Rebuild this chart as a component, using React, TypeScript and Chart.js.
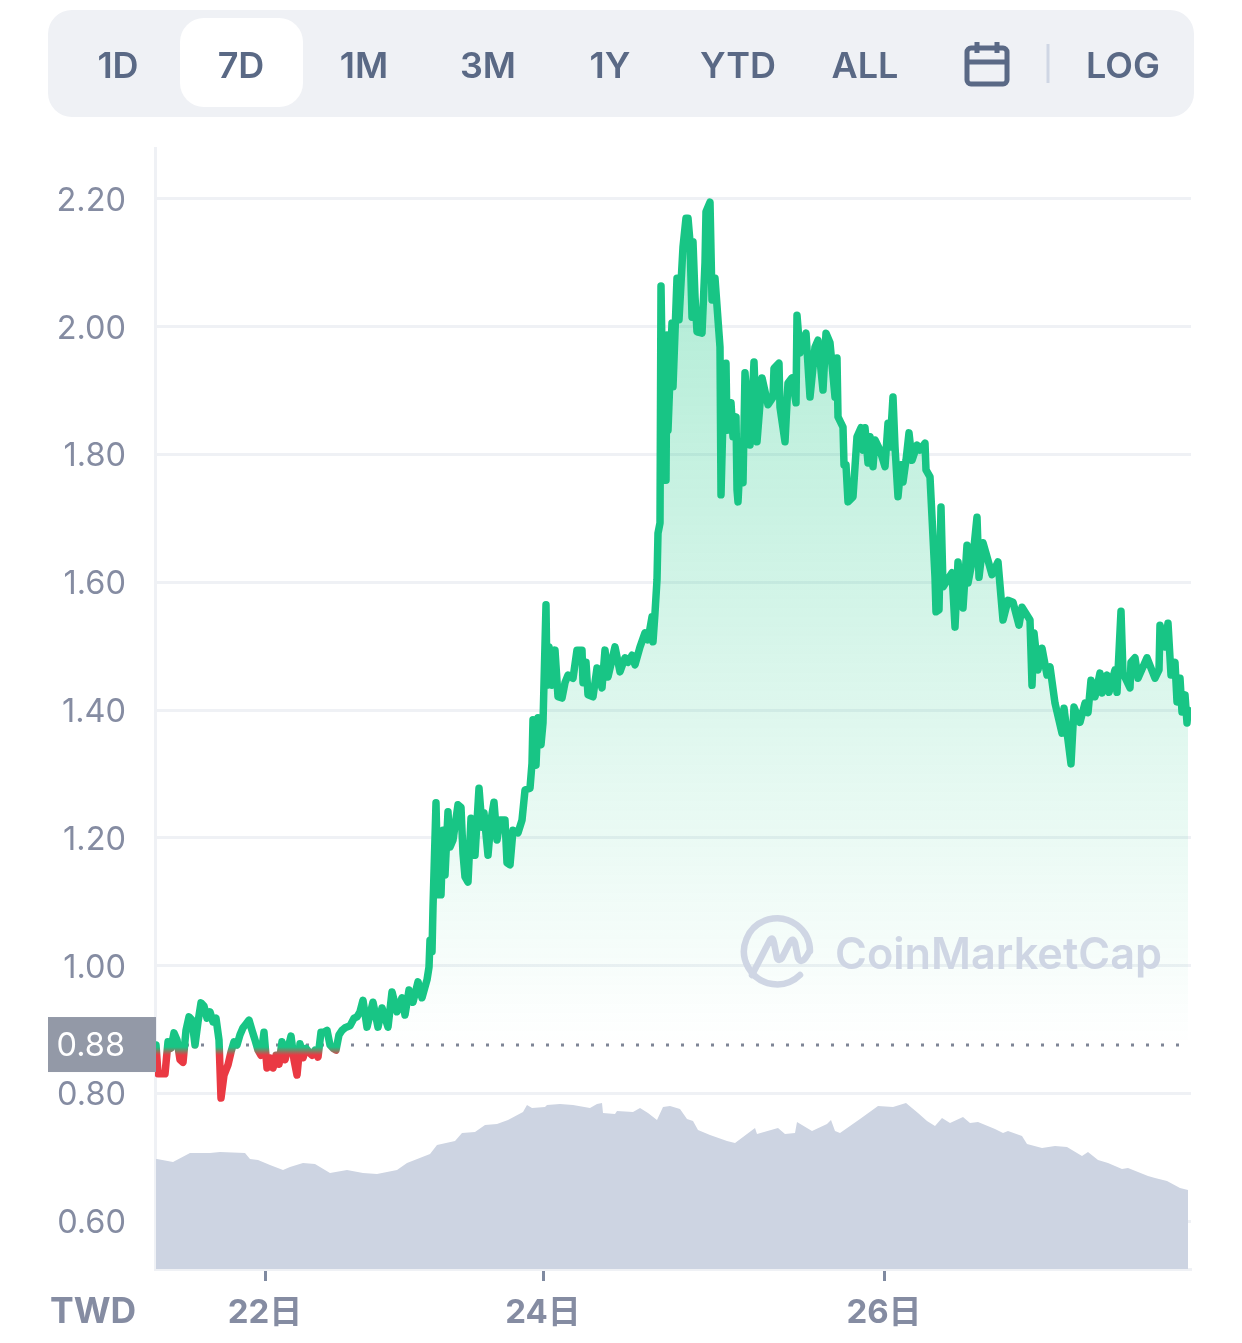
import React, { useEffect, useRef } from "react";
import { Chart, registerables } from "chart.js";

Chart.register(...registerables);

const rangeButtons = ["1D", "7D", "1M", "3M", "1Y", "YTD", "ALL"];
const rangeCenters = [118, 241, 364, 488, 610, 738, 865];
const yTickStep = 0.2;
const xTickMinutes = [1090, 3870, 7280];
const xTickLabels = ["22日", "24日", "26日"];
const currency = "TWD";
const baseline = 0.876;
const baselineLabel = "0.88";

const priceMinutes = [
  0, 20, 90, 120, 150, 180, 210, 240, 270, 300, 330, 360, 390, 420, 450, 480, 510, 540, 570, 600, 630, 650, 680, 720,
  750, 780, 810, 840, 870, 900, 930, 960, 990, 1020, 1050, 1080, 1110, 1140, 1170, 1200, 1230, 1260, 1290, 1320, 1350,
  1380, 1410, 1440, 1470, 1500, 1530, 1560, 1590, 1620, 1650, 1680, 1710, 1740, 1770, 1800, 1830, 1860, 1890, 1940,
  1980, 2010, 2040, 2070, 2110, 2170, 2220, 2260, 2320, 2360, 2410, 2460, 2490, 2530, 2570, 2620, 2660, 2710, 2730,
  2740, 2760, 2770, 2800, 2820, 2850, 2870, 2890, 2920, 2940, 2970, 3020, 3050, 3070, 3090, 3120, 3150, 3190, 3230,
  3260, 3280, 3320, 3350, 3380, 3410, 3440, 3490, 3510, 3540, 3570, 3620, 3660, 3690, 3740, 3760, 3770, 3800, 3820,
  3850, 3870, 3900, 3910, 3930, 3960, 3990, 4020, 4060, 4090, 4120, 4170, 4210, 4260, 4270, 4300, 4320, 4370, 4410,
  4460, 4490, 4520, 4590, 4640, 4690, 4720, 4760, 4790, 4840, 4890, 4920, 4960, 4970, 4990, 5010, 5020, 5040, 5050,
  5080, 5100, 5110, 5120, 5160, 5170, 5210, 5230, 5270, 5300, 5320, 5340, 5360, 5370, 5390, 5410, 5460, 5490, 5500,
  5540, 5560, 5590, 5620, 5640, 5650, 5670, 5700, 5710, 5750, 5770, 5800, 5810, 5820, 5840, 5870, 5890, 5940, 5980,
  6010, 6060, 6120, 6170, 6180, 6230, 6240, 6290, 6320, 6360, 6400, 6410, 6440, 6500, 6540, 6590, 6620, 6670, 6700,
  6740, 6790, 6810, 6820, 6870, 6880, 6900, 6920, 6970, 7010, 7050, 7070, 7090, 7120, 7140, 7170, 7190, 7240, 7290,
  7320, 7340, 7370, 7390, 7420, 7450, 7470, 7500, 7530, 7560, 7610, 7640, 7690, 7700, 7740, 7790, 7800, 7830, 7850,
  7870, 7960, 7990, 8020, 8070, 8110, 8120, 8170, 8210, 8230, 8270, 8310, 8360, 8420, 8470, 8520, 8570, 8630, 8660,
  8740, 8760, 8780, 8820, 8860, 8910, 8940, 8990, 9060, 9080, 9150, 9180, 9240, 9290, 9320, 9350, 9390, 9440, 9460,
  9510, 9530, 9590, 9610, 9650, 9670, 9740, 9750, 9790, 9820, 9910, 9990, 10030, 10040, 10090, 10120, 10150, 10190,
  10210, 10240, 10260, 10290, 10310, 10320,
];

const prices = [
  0.876, 0.831, 0.831, 0.881, 0.871, 0.895, 0.884, 0.853, 0.849, 0.899, 0.92, 0.915, 0.876, 0.912, 0.942, 0.937, 0.918,
  0.928, 0.912, 0.918, 0.884, 0.793, 0.829, 0.845, 0.865, 0.881, 0.876, 0.892, 0.903, 0.909, 0.915, 0.899, 0.884, 0.868,
  0.86, 0.896, 0.84, 0.856, 0.84, 0.86, 0.846, 0.881, 0.853, 0.871, 0.89, 0.853, 0.829, 0.878, 0.856, 0.871, 0.865, 0.86,
  0.868, 0.857, 0.896, 0.896, 0.899, 0.876, 0.871, 0.868, 0.892, 0.899, 0.903, 0.906, 0.918, 0.92, 0.928, 0.946, 0.904,
  0.943, 0.904, 0.934, 0.904, 0.959, 0.928, 0.95, 0.923, 0.962, 0.943, 0.975, 0.95, 0.978, 0.998, 1.04, 1.022, 1.092,
  1.255, 1.111, 1.111, 1.212, 1.142, 1.241, 1.186, 1.197, 1.252, 1.248, 1.176, 1.139, 1.131, 1.231, 1.173, 1.278, 1.217,
  1.239, 1.173, 1.228, 1.256, 1.197, 1.228, 1.228, 1.161, 1.158, 1.212, 1.208, 1.228, 1.275, 1.278, 1.317, 1.385, 1.314,
  1.388, 1.346, 1.38, 1.565, 1.439, 1.499, 1.439, 1.494, 1.421, 1.419, 1.443, 1.455, 1.45, 1.494, 1.494, 1.443, 1.475,
  1.424, 1.421, 1.466, 1.435, 1.494, 1.452, 1.499, 1.46, 1.482, 1.475, 1.486, 1.471, 1.499, 1.521, 1.51, 1.546, 1.507,
  1.552, 1.604, 1.677, 1.693, 2.064, 1.76, 1.76, 1.987, 1.838, 2.006, 1.906, 2.076, 2.011, 2.125, 2.17, 2.17, 2.133,
  2.015, 2.133, 2.047, 1.992, 1.99, 2.1, 2.18, 2.195, 2.042, 2.076, 2.011, 1.968, 1.737, 1.859, 1.943, 1.838, 1.881,
  1.828, 1.859, 1.745, 1.726, 1.787, 1.756, 1.928, 1.815, 1.945, 1.82, 1.92, 1.878, 1.89, 1.935, 1.943, 1.874, 1.82,
  1.912, 1.92, 1.881, 2.018, 1.959, 1.99, 1.89, 1.968, 1.979, 1.901, 1.99, 1.975, 1.89, 1.951, 1.859, 1.843, 1.784,
  1.784, 1.726, 1.734, 1.828, 1.842, 1.807, 1.842, 1.787, 1.828, 1.781, 1.823, 1.807, 1.781, 1.849, 1.812, 1.89, 1.812,
  1.734, 1.784, 1.757, 1.791, 1.834, 1.791, 1.815, 1.807, 1.818, 1.776, 1.765, 1.608, 1.554, 1.557, 1.718, 1.593, 1.615,
  1.53, 1.632, 1.56, 1.658, 1.599, 1.64, 1.702, 1.608, 1.662, 1.64, 1.612, 1.632, 1.541, 1.572, 1.569, 1.533, 1.561,
  1.541, 1.439, 1.521, 1.463, 1.497, 1.455, 1.468, 1.411, 1.364, 1.403, 1.316, 1.405, 1.381, 1.411, 1.396, 1.447, 1.421,
  1.458, 1.427, 1.455, 1.428, 1.463, 1.428, 1.555, 1.458, 1.435, 1.475, 1.482, 1.45, 1.482, 1.45, 1.463, 1.533, 1.499,
  1.536, 1.455, 1.475, 1.413, 1.45, 1.397, 1.424, 1.38, 1.4,
];

const volumeMinutes = [
  0, 10, 170, 340, 540, 640, 890, 940, 1020, 1140, 1270, 1340, 1470, 1590, 1740, 1910, 2070, 2210, 2410, 2510, 2740, 2810,
  2990, 3060, 3190, 3290, 3410, 3520, 3670, 3710, 3760, 3890, 3910, 4040, 4170, 4340, 4410, 4460, 4470, 4590, 4610, 4770,
  4840, 4920, 5010, 5070, 5140, 5240, 5310, 5370, 5420, 5540, 5710, 5790, 5910, 5990, 6010, 6220, 6290, 6390, 6410, 6560,
  6710, 6750, 6790, 6840, 7040, 7220, 7370, 7500, 7620, 7710, 7790, 7860, 7940, 8070, 8140, 8220, 8390, 8470, 8520, 8660,
  8710, 8860, 8990, 9110, 9260, 9320, 9420, 9520, 9660, 9720, 9920, 9990, 10110, 10240, 10320,
];

const volumes = [
  110, 110, 107, 116, 116, 117, 116, 110, 109, 104, 99, 102, 106, 105, 96, 99, 96, 95, 99, 106, 115, 124, 128, 136, 137,
  144, 145, 149, 157, 164, 161, 162, 164, 165, 164, 161, 165, 166, 156, 155, 158, 157, 161, 156, 149, 162, 163, 160, 150,
  148, 139, 134, 128, 126, 135, 141, 135, 141, 135, 136, 147, 138, 145, 149, 138, 136, 150, 163, 162, 166, 156, 148, 143,
  151, 146, 152, 146, 147, 140, 136, 138, 133, 125, 121, 123, 122, 113, 117, 109, 106, 100, 101, 93, 91, 88, 81, 79,
];

const AXIS_FONT = "Inter, 'Noto Sans CJK JP', sans-serif";
const LINE_COLOR = "#eff1f5";
const TEXT_COLOR = "#858ca2";
const BUTTON_COLOR = "#5a6985";

function App() {
  const ref = useRef<HTMLCanvasElement | null>(null);

  useEffect(() => {
    if (!ref.current) return;

    const labelNudge = {
      id: "labelNudge",
      beforeDraw(chart: any) {
        const s = chart.scales.y;
        if (s.$nudged === s._labelItems && s._labelItems) return;
        const items = s.getLabelItems();
        items.forEach((it: any) => {
          it.options.translation[1] += 2;
        });
        s.$nudged = items;
      },
    };

    const baselineBox = {
      id: "baselineBox",
      afterDatasetsDraw(chart: any) {
        const { ctx, scales } = chart;
        const y = scales.y.getPixelForValue(baseline);
        ctx.save();
        ctx.fillStyle = "#9399a7";
        ctx.fillRect(48, y - 28, 108, 55);
        ctx.fillStyle = "#ffffff";
        ctx.font = `400 32.5px ${AXIS_FONT}`;
        ctx.textAlign = "right";
        ctx.textBaseline = "middle";
        ctx.fillText(baselineLabel, 125, y + 1);
        ctx.restore();
      },
    };

    const chart = new Chart(ref.current, {
      type: "line",
      plugins: [labelNudge, baselineBox],
      data: {
        datasets: [
          {
            data: priceMinutes.map((x, i) => ({ x, y: prices[i] })),
            yAxisID: "y",
            order: 0,
            borderWidth: 7.5,
            borderJoinStyle: "round",
            borderCapStyle: "round",
            pointRadius: 0,
            tension: 0,
            fill: { target: { value: baseline }, below: "rgba(0,0,0,0)" },
            borderColor: (c: any) => {
              const { chart: ch } = c;
              const s = ch.scales.y;
              if (!ch.chartArea || !s) return "#18c585";
              const b = s.getPixelForValue(baseline);
              const g = ch.ctx.createLinearGradient(0, b + 2, 0, b + 10);
              g.addColorStop(0, "#18c585");
              g.addColorStop(1, "#ea3943");
              return g;
            },
            backgroundColor: (c: any) => {
              const { chart: ch } = c;
              const s = ch.scales.y;
              if (!ch.chartArea || !s) return "rgba(22,199,132,0.2)";
              const g = ch.ctx.createLinearGradient(0, s.getPixelForValue(2.2), 0, s.getPixelForValue(baseline));
              g.addColorStop(0, "rgba(22,199,132,0.36)");
              g.addColorStop(1, "rgba(22,199,132,0)");
              return g;
            },
          },
          {
            data: [
              { x: 0, y: baseline },
              { x: 10240, y: baseline },
            ],
            yAxisID: "y",
            order: 1,
            borderColor: "#7f8596",
            borderWidth: 3,
            borderDash: [3, 12],
            pointRadius: 0,
            fill: false,
          },
          {
            data: volumeMinutes.map((x, i) => ({ x, y: volumes[i] })),
            yAxisID: "volume",
            order: 2,
            borderWidth: 0,
            pointRadius: 0,
            tension: 0,
            backgroundColor: "#cdd4e2",
            fill: "origin",
          },
        ],
      },
      options: {
        animation: false,
        responsive: false,
        devicePixelRatio: 1,
        layout: { padding: { top: 148, right: 51, left: 0, bottom: 0 } },
        plugins: { legend: { display: false }, tooltip: { enabled: false } },
        scales: {
          x: {
            type: "linear",
            min: -10,
            max: 10350,
            border: { color: LINE_COLOR, width: 3 },
            grid: { drawOnChartArea: false, drawTicks: true, tickLength: 12, tickWidth: 3, tickColor: "#7f8aa1" },
            afterBuildTicks: (s: any) => {
              s.ticks = xTickMinutes.map((value) => ({ value }));
            },
            afterFit: (s: any) => {
              s.height = 74;
            },
            ticks: {
              autoSkip: false,
              maxRotation: 0,
              padding: 12,
              color: TEXT_COLOR,
              font: { family: AXIS_FONT, size: 33, weight: "700" },
              callback: (v: any) => xTickLabels[xTickMinutes.indexOf(v)],
            },
          },
          y: {
            type: "linear",
            min: 0.5255,
            max: 2.2798,
            border: { color: LINE_COLOR, width: 3 },
            grid: { color: LINE_COLOR, lineWidth: 3, drawTicks: false },
            afterFit: (s: any) => {
              s.width = 155;
            },
            ticks: {
              stepSize: yTickStep,
              includeBounds: false,
              padding: 29,
              color: TEXT_COLOR,
              font: { family: AXIS_FONT, size: 32.5, weight: "400" },
              callback: (v: any) => Number(v).toFixed(2),
            },
          },
          volume: { type: "linear", display: false, min: 0, max: 1121 },
        },
      },
    } as any);

    return () => chart.destroy();
  }, []);

  const btn: React.CSSProperties = {
    position: "absolute",
    top: 10,
    height: 107,
    lineHeight: "110px",
    width: 120,
    textAlign: "center",
    fontFamily: "Inter, sans-serif",
    fontWeight: 600,
    fontSize: 36,
    color: BUTTON_COLOR,
  };

  return (
    <div style={{ position: "absolute", left: 0, top: 0, width: 1242, height: 1343, background: "#fff", overflow: "hidden" }}>
      <canvas ref={ref} width={1242} height={1343} style={{ position: "absolute", left: 0, top: 0, display: "block" }} />
      <div style={{ position: "absolute", left: 48, top: 10, width: 1146, height: 107, background: "#eff1f5", borderRadius: 24 }} />
      <div style={{ position: "absolute", left: 180, top: 18, width: 123, height: 89, background: "#fff", borderRadius: 24 }} />
      {rangeButtons.map((b, i) => (
        <div key={b} style={{ ...btn, left: rangeCenters[i] - 60 }}>
          {b}
        </div>
      ))}
      <div style={{ ...btn, left: 1063 }}>LOG</div>
      <div style={{ position: "absolute", left: 50, top: 1288, fontFamily: "Inter, sans-serif", fontWeight: 700, fontSize: 35.5, lineHeight: "46px", color: TEXT_COLOR }}>
        {currency}
      </div>
      <svg width={1242} height={1343} style={{ position: "absolute", left: 0, top: 0, pointerEvents: "none" }}>
        <g fill="none" stroke={BUTTON_COLOR} strokeWidth={5}>
          <rect x={967} y={48} width={40} height={36} rx={4} />
          <path d="M967 62H1007M977 42V53M997 42V53" />
        </g>
        <path d="M1048 44V83" stroke="#cfd6e4" strokeWidth={3} />
        <g fill="none" stroke="#cfd6e4" strokeWidth={6.5} strokeLinecap="round" strokeLinejoin="round">
          <path d="M810 951A33 33 0 1 0 800 975" />
          <path d="M752 975L770 940Q773 936 774 943L777 958Q779 962 782 958L790 942Q793 937 795 943L798 958Q802 966 809 952" />
        </g>
        <text x={835} y={969} fontFamily="Inter, sans-serif" fontWeight={600} fontSize={44} fill="#cfd6e4" textLength={327} lengthAdjust="spacingAndGlyphs">
          CoinMarketCap
        </text>
      </svg>
    </div>
  );
}

export default App;
